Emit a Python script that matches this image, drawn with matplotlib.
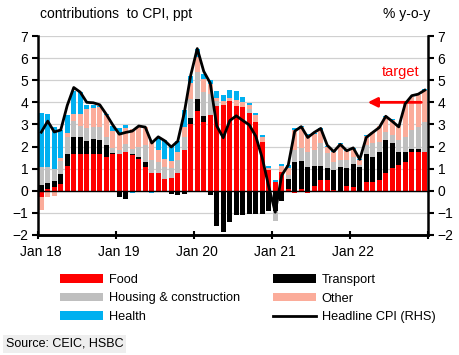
#!/usr/bin/env python3
"""Vietnam CPI contributions, Jan 18 - Dec 22"""
import matplotlib.pyplot as plt
import numpy as np
import pandas as pd

plt.rcParams["font.family"] = ["Liberation Sans", "DejaVu Sans"]

months = pd.date_range("2018-01-01", "2022-12-01", freq="MS")

food = [-0.30, 0.10, 0.18, 0.30, 1.10, 1.65, 1.65, 1.65, 1.65, 1.65, 1.52, 1.68,
        1.68, 1.75, 1.60, 1.45, 1.07, 0.80, 0.80, 0.53, 0.60, 0.80, 1.83, 3.00,
        3.63, 3.10, 3.43, 3.84, 3.90, 4.04, 3.84, 3.78, 3.50, 3.12, 2.20, 0.95,
        0.38, 0.83, 0.10, -0.10, 0.10, -0.10, 0.20, 0.48, 0.48, 0.03, -0.06, 0.20,
        0.15, -0.05, 0.38, 0.38, 0.50, 0.80, 1.04, 1.15, 1.30, 1.75, 1.75, 1.75]
transport = [0.27, 0.27, 0.25, 0.45, 0.58, 0.80, 0.76, 0.60, 0.67, 0.64, 0.53, 0.05,
             -0.30, -0.38, 0.08, 0.08, 0.23, 0.00, -0.03, -0.03, -0.15, -0.20, -0.15, 0.27,
             0.52, 0.30, -0.20, -1.60, -1.85, -1.40, -1.10, -1.10, -1.05, -1.05, -1.05, -0.90,
             -0.90, -0.45, 0.45, 1.30, 1.25, 1.06, 0.90, 0.64, 0.53, 0.90, 1.06, 0.85,
             1.07, 1.07, 1.27, 1.17, 1.27, 1.50, 1.10, 0.60, 0.45, 0.12, 0.12, 0.00]
housing = [0.80, 0.70, 0.55, 0.60, 0.73, 0.70, 0.50, 0.60, 0.55, 0.60, 0.38, 0.20,
           0.15, 0.38, 0.22, 0.45, 0.76, 0.58, 0.50, 0.53, 0.45, 0.58, 0.60, 0.90,
           1.20, 1.07, 0.95, 0.20, 0.00, 0.00, 0.00, 0.00, 0.18, 0.00, 0.00, 0.00,
           -0.47, 0.00, 0.15, 0.55, 0.60, 0.70, 0.73, 1.03, 0.68, 0.38, 0.35, 0.33,
           0.33, 0.10, 0.40, 0.60, 0.45, 0.35, 0.38, 0.53, 0.68, 0.90, 1.00, 1.37]
other = [-0.55, -0.30, -0.25, 0.15, 0.20, 0.30, 0.55, 0.85, 0.87, 0.90, 1.00, 0.76,
         0.76, 0.70, 0.90, 0.90, 0.84, 0.85, 0.55, 0.38, 0.30, 0.38, 0.45, 0.70,
         0.70, 0.60, 0.45, 0.15, 0.15, 0.15, 0.27, 0.25, 0.20, 0.30, 0.23, 0.08,
         0.00, 0.30, 0.35, 0.90, 0.95, 0.76, 0.76, 0.60, 0.30, 0.45, 0.70, 0.42,
         0.35, 0.22, 0.45, 0.50, 0.70, 0.70, 0.70, 0.70, 1.60, 1.45, 1.45, 1.45]
health = [2.45, 2.40, 1.90, 1.25, 0.80, 1.07, 1.00, 0.20, 0.15, 0.05, 0.05, 0.25,
          0.25, 0.15, -0.10, -0.05, -0.05, -0.08, 0.60, 0.84, 0.70, 0.50, 0.76, 0.30,
          0.38, 0.23, 0.20, 0.33, 0.30, 0.38, 0.40, 0.23, 0.10, 0.08, 0.07, 0.07,
          0.10, 0.08, 0.10, 0.08, 0.05, 0.03, 0.03, 0.07, 0.03, 0.02, 0.03, 0.03,
          0.03, 0.05, 0.03, 0.03, 0.03, 0.03, 0.03, 0.03, 0.03, 0.03, 0.03, 0.03]
headline = [2.65, 3.15, 2.66, 2.75, 3.86, 4.67, 4.46, 4.00, 3.98, 3.89, 3.46, 2.98,
            2.56, 2.64, 2.70, 2.93, 2.88, 2.16, 2.44, 2.26, 1.98, 2.24, 3.52, 5.23,
            6.43, 5.40, 4.87, 2.93, 2.40, 3.17, 3.39, 3.18, 2.98, 2.47, 1.48, 0.19,
            -0.97, 0.70, 1.16, 2.70, 2.90, 2.41, 2.64, 2.82, 2.06, 1.77, 2.10, 1.81,
            1.94, 1.42, 2.41, 2.64, 2.86, 3.37, 3.14, 2.89, 3.94, 4.30, 4.37, 4.55]

series = [("Food", food, "#ff0000"),
          ("Transport", transport, "#000000"),
          ("Housing & construction", housing, "#bfbfbf"),
          ("Other", other, "#fbac9a"),
          ("Health", health, "#00b0f0")]

x = np.arange(len(months))
fig = plt.figure(figsize=(4.6, 3.55), dpi=100)
ax = fig.add_axes([38/460, 1-235/355, 390/460, 199/355])

for v in range(-1, 8):
    ax.axhline(v, color="#d0d0d0", lw=0.9, zorder=0)
ax.axhline(0, color="black", lw=1.0, zorder=3)

pos = np.zeros(len(x))
neg = np.zeros(len(x))
bars = {}
for name, vals, col in series:
    v = np.array(vals)
    bottom = np.where(v >= 0, pos, neg)
    bars[name] = ax.bar(x, v, 0.75, bottom=bottom, color=col, label=name, zorder=2)
    pos = pos + np.clip(v, 0, None)
    neg = neg + np.clip(v, None, 0)

ax2 = ax.twinx()
line, = ax2.plot(x, headline, color="black", lw=2, label="Headline CPI (RHS)", zorder=5)

for a in (ax, ax2):
    a.set_ylim(-2, 7)
    a.set_yticks(range(-2, 8))
    a.set_xlim(-0.5, len(x) - 0.5)
    a.spines["top"].set_visible(False)
    for s in ("left", "right", "bottom"):
        a.spines[s].set_linewidth(1.8)
    a.tick_params(axis="y", direction="out", length=4, width=1.5, labelsize=10, pad=3)
ax.spines["right"].set_visible(False)
ax2.spines["left"].set_visible(False)

ax.set_xticks(np.arange(0, 61, 12) - 0.5)
ax.set_xticklabels([])
ax.tick_params(axis="x", which="major", direction="inout", length=6, width=1.5)
ax.set_xticks(np.arange(0, 60, 12), minor=True)
ax.set_xticklabels(["Jan 18", "Jan 19", "Jan 20", "Jan 21", "Jan 22"], minor=True)
ax.tick_params(axis="x", which="minor", length=0, labelsize=10, pad=7)

ax2.annotate("", xy=(49.8, 4.0), xytext=(58.9, 4.0),
             arrowprops=dict(arrowstyle="-|>", color="#ff0000", lw=2,
                             mutation_scale=14))
ax2.text(55.3, 5.37, "target", color="#ff0000", fontsize=10.5, ha="center", va="center")

fig.text(40/460, 1-14/355, "contributions  to CPI, ppt", fontsize=10, va="center")
fig.text(430/460, 1-14/355, "% y-o-y", fontsize=10, va="center", ha="right")

handles = [bars["Food"], bars["Housing & construction"], bars["Health"],
           bars["Transport"], bars["Other"], line]
labels = ["Food", "Housing & construction", "Health",
          "Transport", "Other", "Headline CPI (RHS)"]
fig.legend(handles, labels, ncol=2, loc="upper left", bbox_to_anchor=(55/460, 1-269/355),
           frameon=False, fontsize=9.2, handlelength=3.35, handleheight=0.65,
           handletextpad=0.45, labelspacing=0.5, columnspacing=2.6, borderaxespad=0)

fig.text(6/460, 1-344/355, "Source: CEIC, HSBC", fontsize=9, va="center",
         bbox=dict(facecolor="#eeeeee", edgecolor="none", pad=2))

fig.savefig("out.png", dpi=100)
